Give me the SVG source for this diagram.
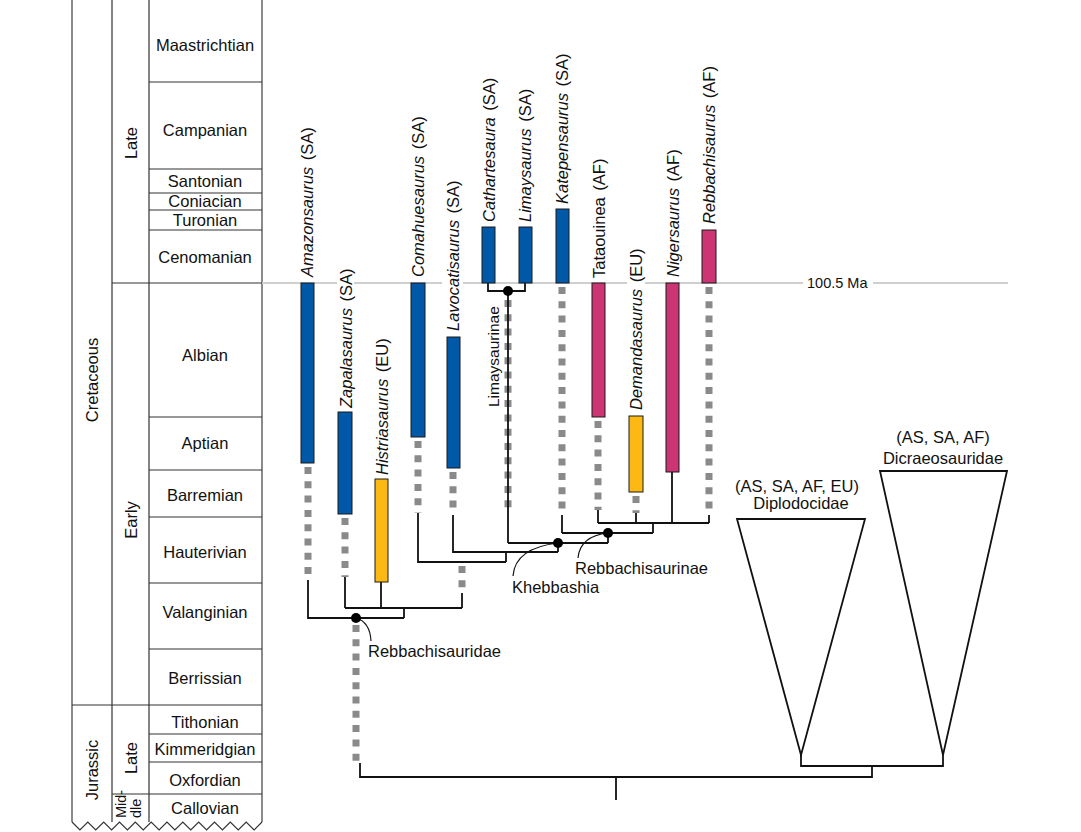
<svg xmlns="http://www.w3.org/2000/svg" width="1081" height="832" viewBox="0 0 1081 832">
<style>
text{font-family:"Liberation Sans",Arial,sans-serif;font-size:16.5px;fill:#111}
.it{font-style:italic}
.ts{fill:none;stroke:#333;stroke-width:1.2}
.tso{fill:none;stroke:#666;stroke-width:1.5}
.st{text-anchor:middle}
.br{stroke:#1a1a1a;stroke-width:1}
.sa{fill:#0059a8}
.af{fill:#cc3474}
.eu{fill:#fdb913}
.ln{fill:none;stroke:#111;stroke-width:1.8}
.dt{fill:none;stroke:#8a8a8a;stroke-width:7;stroke-dasharray:7 7.3}
.ld{fill:none;stroke:#111;stroke-width:1.2}
.ma{fill:none;stroke:#cfcfcf;stroke-width:2}
.tri{fill:#fff;stroke:#111;stroke-width:1.8}
</style>

<g id="timescale">
  <path class="tso" d="M72,0V822M262,0V822"/>
  <path class="ts" d="M112,0V822M149,0V822"/>
  <path class="ts" d="M149,82H262M149,169H262M149,193H262M149,210H262M149,230H262M112,283H262M149,417H262M149,470H262M149,517H262M149,583H262M149,649H262M72,705H262M149,734H262M149,762H262M112,794H262"/>
  <polyline class="ts" points="72,822 79.9,830 87.8,822 95.75,830 103.7,822 111.6,830 119.5,822 127.4,830 135.3,822 143.25,830 151.2,822 159.1,830 167,822 174.9,830 182.8,822 190.75,830 198.7,822 206.6,830 214.5,822 222.4,830 230.3,822 238.25,830 246.2,822 254.1,830 262,822"/>
  <text class="st" x="205" y="51">Maastrichtian</text>
  <text class="st" x="205" y="136">Campanian</text>
  <text class="st" x="205" y="187">Santonian</text>
  <text class="st" x="205" y="207">Coniacian</text>
  <text class="st" x="205" y="226">Turonian</text>
  <text class="st" x="205" y="263">Cenomanian</text>
  <text class="st" x="205" y="361">Albian</text>
  <text class="st" x="205" y="449">Aptian</text>
  <text class="st" x="205" y="501">Barremian</text>
  <text class="st" x="205" y="558">Hauterivian</text>
  <text class="st" x="205" y="618">Valanginian</text>
  <text class="st" x="205" y="684">Berrissian</text>
  <text class="st" x="205" y="728">Tithonian</text>
  <text class="st" x="205" y="755">Kimmeridgian</text>
  <text class="st" x="205" y="786">Oxfordian</text>
  <text class="st" x="205" y="814">Callovian</text>
  <text class="st" transform="translate(98,380) rotate(-90)">Cretaceous</text>
  <text class="st" transform="translate(98,770) rotate(-90)">Jurassic</text>
  <text class="st" transform="translate(137,143) rotate(-90)">Late</text>
  <text class="st" transform="translate(137,520) rotate(-90)">Early</text>
  <text class="st" transform="translate(137,758) rotate(-90)">Late</text>
  <text style="font-size:14.5px" transform="translate(126,818) rotate(-90)">Mid-</text>
  <text style="font-size:14.5px" transform="translate(141,818) rotate(-90)">dle</text>
</g>

<g id="boundary-100-5">
  <path class="ma" d="M262,283H337M354,283H442M463,283H627M645,283H803M873,283H1008"/>
  <text x="807" y="288" style="font-size:14.5px">100.5 Ma</text>
</g>

<g id="connectors">
  <path class="dt" d="M308,467V580M345,518V577M418,441V513M453,472V515M508,300V510M562,287V515M598,421V510M636,496V513M709,287V515M462,566V593M356,625V763"/>
  <path class="ln" d="M488,283V291H525V283M508,291V543"/>
  <path class="ln" d="M598,510V523M636,513V523M672,472V523M709,515V523M598,523H709M653,523V533M562,515V533M562,533H653M608,533V543M508,543H608M558,543V552M453,515V552H558M506,552V562M418,513V562H506M462,593V608M345,577V608M381,582V608M345,608H462M404,608V618M308,580V618H404"/>
  <path class="ln" d="M360,763V777H872V766M801,755V766H943V755M616,777V800"/>
  <path class="ld" d="M356,618Q370,622 371,641M558,543Q515,548 513,576M608,533Q580,536 578,558"/>
</g>

<g id="amazonsaurus">
  <rect class="sa br" x="301" y="283" width="13" height="180"/>
  <text transform="translate(313,277) rotate(-90)"><tspan class="it">Amazonsaurus</tspan><tspan dx="2"> (SA)</tspan></text>
</g>
<g id="zapalasaurus">
  <rect class="sa br" x="338" y="412" width="14" height="102"/>
  <text transform="translate(352,408) rotate(-90)"><tspan class="it">Zapalasaurus</tspan><tspan dx="2"> (SA)</tspan></text>
</g>
<g id="histriasaurus">
  <rect class="eu br" x="375" y="479" width="13" height="103"/>
  <text transform="translate(388,475) rotate(-90)"><tspan class="it">Histriasaurus</tspan><tspan dx="2"> (EU)</tspan></text>
</g>
<g id="comahuesaurus">
  <rect class="sa br" x="411" y="283" width="14" height="154"/>
  <text transform="translate(424,277) rotate(-90)"><tspan class="it">Comahuesaurus</tspan><tspan dx="2"> (SA)</tspan></text>
</g>
<g id="lavocatisaurus">
  <rect class="sa br" x="447" y="337" width="13" height="131"/>
  <text transform="translate(459,331) rotate(-90)"><tspan class="it">Lavocatisaurus</tspan><tspan dx="2"> (SA)</tspan></text>
</g>
<g id="cathartesaura">
  <rect class="sa br" x="482" y="227" width="13" height="56"/>
  <text transform="translate(495,222) rotate(-90)"><tspan class="it">Cathartesaura</tspan><tspan dx="2"> (SA)</tspan></text>
</g>
<g id="limaysaurus">
  <rect class="sa br" x="519" y="227" width="13" height="56"/>
  <text transform="translate(531,222) rotate(-90)"><tspan class="it">Limaysaurus</tspan><tspan dx="2"> (SA)</tspan></text>
</g>
<g id="katepensaurus">
  <rect class="sa br" x="556" y="209" width="13" height="74"/>
  <text transform="translate(568,204) rotate(-90)"><tspan class="it">Katepensaurus</tspan><tspan dx="2"> (SA)</tspan></text>
</g>
<g id="tataouinea">
  <rect class="af br" x="592" y="283" width="13" height="134"/>
  <text transform="translate(605,278) rotate(-90)">Tataouinea<tspan dx="2"> (AF)</tspan></text>
</g>
<g id="demandasaurus">
  <rect class="eu br" x="629" y="416" width="14" height="76"/>
  <text transform="translate(642,410) rotate(-90)"><tspan class="it">Demandasaurus</tspan><tspan dx="2"> (EU)</tspan></text>
</g>
<g id="nigersaurus">
  <rect class="af br" x="666" y="283" width="13" height="189"/>
  <text transform="translate(679,277) rotate(-90)"><tspan class="it">Nigersaurus</tspan><tspan dx="2"> (AF)</tspan></text>
</g>
<g id="rebbachisaurus">
  <rect class="af br" x="702" y="230" width="14" height="53"/>
  <text transform="translate(715,224) rotate(-90)"><tspan class="it">Rebbachisaurus</tspan><tspan dx="2"> (AF)</tspan></text>
</g>

<g id="limaysaurinae">
  <circle cx="508" cy="291" r="5"/>
  <text style="font-size:15.5px" transform="translate(499,407) rotate(-90)">Limaysaurinae</text>
</g>
<g id="khebbashia">
  <circle cx="558" cy="543" r="5"/>
  <text x="512" y="593">Khebbashia</text>
</g>
<g id="rebbachisaurinae">
  <circle cx="608" cy="533" r="5"/>
  <text x="575" y="574">Rebbachisaurinae</text>
</g>
<g id="rebbachisauridae">
  <circle cx="356" cy="618" r="5"/>
  <text x="368" y="657">Rebbachisauridae</text>
</g>
<g id="diplodocidae">
  <polygon class="tri" points="737,519 865,519 801,755"/>
  <text class="st" x="797" y="492">(AS, SA, AF, EU)</text>
  <text class="st" x="801" y="509">Diplodocidae</text>
</g>
<g id="dicraeosauridae">
  <polygon class="tri" points="880,471 1007,471 943,755"/>
  <text class="st" x="943" y="443">(AS, SA, AF)</text>
  <text class="st" x="943" y="464">Dicraeosauridae</text>
</g>
</svg>
